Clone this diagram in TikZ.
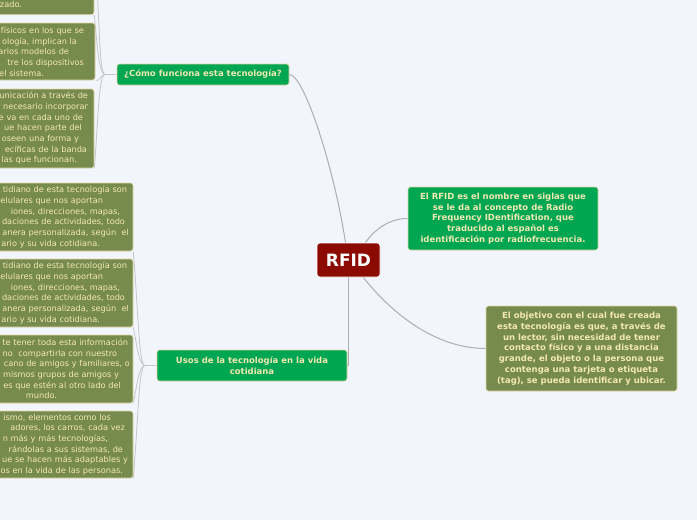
\documentclass[tikz,border=0pt]{standalone}
\usepackage{fontspec}
\setmainfont{DejaVu Sans}
\usetikzlibrary{backgrounds}
\definecolor{bg}{HTML}{F3F5FD}
\definecolor{mmgreen}{HTML}{00A651}
\definecolor{olivefill}{HTML}{788B4E}
\definecolor{cream}{HTML}{F2E8B2}
\definecolor{rfidred}{HTML}{8B0A02}
\definecolor{edgegray}{HTML}{AEAEB2}
\definecolor{leafgray}{HTML}{C6C6CA}
\definecolor{bordercream}{HTML}{DDD6A4}
\newcommand{\pad}[1]{\rule{#1pt}{0pt}}
\begin{document}
\begin{tikzpicture}[x=1pt,y=1pt,
 box/.style={rounded corners=2.5pt, draw=bordercream, line width=0.6pt, inner sep=0pt, text=cream},
 greenbox/.style={box, fill=mmgreen, font=\fontsize{8.5}{10.75}\selectfont\bfseries, align=center},
 olivebox/.style={box, fill=olivefill, font=\fontsize{8.5}{10.75}\selectfont\bfseries, align=center},
 leafbox/.style={box, fill=olivefill, font=\fontsize{8.2}{10.65}\selectfont, align=right, text width=190pt, minimum width=190pt},
 rootbox/.style={rounded corners=3pt, draw=white, line width=0.6pt, fill=rfidred, text=white, font=\fontsize{17}{20}\selectfont\bfseries, inner sep=0pt, minimum width=63pt, minimum height=34pt},
 conn/.style={draw=edgegray, line width=1pt},
 leafconn/.style={draw=leafgray, line width=0.8pt},
]
\useasboundingbox (0,0) rectangle (697,-520);
\clip (0,0) rectangle (697,-520);

% root and main branches
\node[rootbox] (rfid) at (348.5,-260) {RFID};
\node[greenbox, minimum width=172pt, minimum height=21pt] (como) at (203,-74.5) {¿Cómo funciona esta tecnología?};
\node[greenbox, minimum width=190pt, minimum height=63pt] (def) at (503,-218.5) {El RFID es el nombre en siglas que\\se le da al concepto de Radio\\Frequency IDentification, que\\traducido al español es\\identificación por radiofrecuencia.};
\node[olivebox, minimum width=191pt, minimum height=85pt] (obj) at (581.5,-348.5) {El objetivo con el cual fue creada\\esta tecnología es que, a través de\\un lector, sin necesidad de tener\\contacto físico y a una distancia\\grande, el objeto o la persona que\\contenga una tarjeta o etiqueta\\(tag), se pueda identificar y ubicar.};
\node[greenbox, minimum width=190pt, minimum height=31pt] (usos) at (252,-365.5) {Usos de la tecnología en la vida\\cotidiana};

% leaves of "Como funciona"
\node[leafbox, minimum height=57pt] (t1) at (-1,13.9) {\mbox{}\\\mbox{}\\\mbox{}\\s amigos y\pad{21}\\zado.\pad{72}};
\node[leafbox, minimum height=57pt] (t2) at (0,-51.5) {físicos en los que se\pad{11}\\ología, implican la\pad{18}\\arios modelos de\pad{26}\\tre los dispositivos\pad{11}\\el sistema.\pad{51}};
\node[leafbox, minimum height=79pt] (t3) at (-1,-128.5) {unicación a través de\pad{6}\\necesario incorporar\pad{6}\\e va en cada uno de\pad{11}\\ue hacen parte del\pad{12}\\oseen una forma y\pad{15}\\ecíficas de la banda\pad{7}\\las que funcionan.\pad{17}};
\coordinate (t0) at (94,50);

% leaves of "Usos"
\node[leafbox, minimum height=68pt] (b1) at (38,-217) {tidiano de esta tecnología son\pad{6}\\elulares que nos aportan\pad{30}\\iones, direcciones, mapas,\pad{13}\\daciones de actividades, todo\pad{8}\\anera personalizada, según~~el\pad{4}\\ario y su vida cotidiana.\pad{33}};
\node[leafbox, minimum height=68pt] (b2) at (38,-293) {tidiano de esta tecnología son\pad{6}\\elulares que nos aportan\pad{30}\\iones, direcciones, mapas,\pad{13}\\daciones de actividades, todo\pad{8}\\anera personalizada, según~~el\pad{4}\\ario y su vida cotidiana.\pad{33}};
\node[leafbox, minimum height=68pt] (b3) at (38,-369) {te tener toda esta información\pad{5}\\no~~compartirla con nuestro\pad{16}\\cano de amigos y familiares, o\pad{3}\\mismos grupos de amigos y\pad{14}\\es que estén al otro lado del\pad{12}\\mundo.\pad{76}};
\node[leafbox, minimum height=67pt] (b4) at (38,-444.5) {ismo, elementos como los\pad{22}\\adores, los carros, cada vez\pad{8}\\n más y más tecnologías,\pad{25}\\rándolas a sus sistemas, de\pad{10}\\ue se hacen más adaptables y\pad{5}\\os en la vida de las personas.\pad{10}};

\coordinate (jc) at ([xshift=-12pt]como.west);
\coordinate (ju) at ([xshift=-12pt]usos.west);

\begin{pgfonlayer}{background}
\fill[bg] (0,0) rectangle (697,-520);
\clip (0,0) rectangle (697,-520);
% root connectors
\draw[conn] (como.east) .. controls +(15,0) and +(-11,73) .. ([xshift=-3pt]rfid.north);
\draw[conn] ([xshift=-15pt]rfid.north east) .. controls +(10,14) and +(-18,0) .. (def.west);
\draw[conn] ([xshift=-17pt]rfid.south east) .. controls +(22,-28) and +(-56,0) .. (obj.west);
\draw[conn] (rfid.south) |- (usos.east);
% top leaves
\draw[leafconn] (como.west) -- (jc);
\draw[leafconn] (jc) .. controls +(-6,2) and +(6,-60) .. (t0);
\draw[leafconn] (jc) .. controls +(-6,2) and +(3,-30) .. (t1.south east);
\draw[leafconn] (jc) .. controls +(-4,0) and +(4,-2) .. (t2.south east);
\draw[leafconn] (jc) .. controls +(-6,-2) and +(4,50) .. (t3.south east);
% bottom leaves
\draw[leafconn] (usos.west) -- (ju);
\draw[leafconn] (ju) .. controls +(-6,2) and +(5,-60) .. (b1.south east);
\draw[leafconn] (ju) .. controls +(-6,2) and +(4,-20) .. (b2.south east);
\draw[leafconn] (ju) .. controls +(-6,-2) and +(4,20) .. (b3.south east);
\draw[leafconn] (ju) .. controls +(-6,-2) and +(5,60) .. (b4.south east);
\end{pgfonlayer}
\end{tikzpicture}
\end{document}
